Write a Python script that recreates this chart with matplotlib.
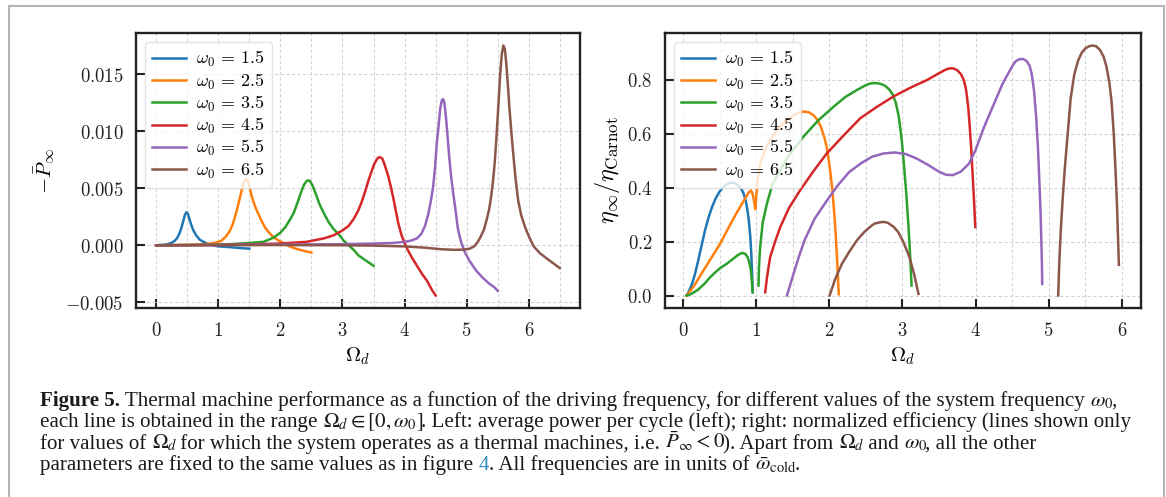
import re
import numpy as np
import matplotlib.pyplot as plt
import matplotlib.transforms as mtransforms
from matplotlib.patches import Rectangle
from matplotlib.ticker import MultipleLocator, FormatStrFormatter

plt.rcParams['mathtext.fontset'] = 'cm'

omega0 = [1.5, 2.5, 3.5, 4.5, 5.5, 6.5]
colors = ['#1f77b4', '#ff7f0e', '#2ca02c', '#d62728', '#9467bd', '#8c564b']

# ---- left panel: -P_inf vs Omega_d ----
p_x1 = [0, 0.1, 0.15, 0.2, 0.25, 0.3, 0.34, 0.38, 0.41, 0.44, 0.465, 0.49, 0.515, 0.54, 0.57, 0.6, 0.64, 0.7,
        0.76, 0.82, 0.88, 0.94, 1.0, 1.1, 1.2, 1.3, 1.4, 1.5]
p_y1 = [0, 0.00003, 0.00006, 0.00012, 0.00022, 0.0004, 0.00065, 0.0011, 0.0016, 0.0022, 0.0027, 0.0029, 0.0027,
        0.0022, 0.0017, 0.0013, 0.0009, 0.0005, 0.0003, 0.00015, 0.00005, -0.00003, -0.0001, -0.00013,
        -0.00017, -0.00022, -0.00026, -0.0003]
p_x2 = [0, 0.5, 0.8, 0.95, 1.05, 1.12, 1.18, 1.23, 1.27, 1.31, 1.35, 1.38, 1.41, 1.43, 1.45, 1.47, 1.49, 1.52,
        1.56, 1.6, 1.65, 1.7, 1.76, 1.82, 1.89, 1.96, 2.05, 2.15, 2.25, 2.35, 2.45, 2.5]
p_y2 = [0, 0.00003, 0.0001, 0.00022, 0.0004, 0.00075, 0.0012, 0.0018, 0.0025, 0.0033, 0.0042, 0.0049, 0.0055,
        0.0057, 0.0058, 0.0057, 0.0054, 0.0047, 0.0039, 0.0033, 0.0027, 0.0021, 0.0015, 0.0011, 0.0007,
        0.00045, 0.0002, -0.0001, -0.0003, -0.00045, -0.00058, -0.00064]
p_x3 = [0, 0.8, 1.2, 1.5, 1.73, 1.89, 2.0, 2.08, 2.15, 2.22, 2.28, 2.33, 2.38, 2.42, 2.45, 2.48, 2.52, 2.57,
        2.63, 2.7, 2.78, 2.86, 2.94, 3.02, 3.1, 3.18, 3.26, 3.34, 3.42, 3.5]
p_y3 = [0, 0.00003, 0.0001, 0.0002, 0.0003, 0.00067, 0.0011, 0.0016, 0.0022, 0.0029, 0.0038, 0.0046, 0.0053,
        0.0056, 0.0057, 0.0056, 0.0052, 0.0045, 0.0036, 0.0028, 0.002, 0.0014, 0.00097, 0.0004, 0.0,
        -0.0004, -0.0009, -0.0012, -0.0015, -0.0018]
p_x4 = [0, 1.0, 1.5, 2.0, 2.42, 2.7, 2.86, 3.0, 3.1, 3.18, 3.25, 3.31, 3.37, 3.42, 3.47, 3.51, 3.55, 3.58, 3.61,
        3.64, 3.67, 3.7, 3.74, 3.78, 3.82, 3.86, 3.9, 3.95, 4.0, 4.05, 4.12, 4.2, 4.28, 4.36, 4.44, 4.5]
p_y4 = [0, 0.00003, 0.00008, 0.00015, 0.0003, 0.0006, 0.00088, 0.0013, 0.0017, 0.0023, 0.003, 0.0038, 0.0048,
        0.0057, 0.0065, 0.0071, 0.0075, 0.0077, 0.0077, 0.0076, 0.0072, 0.0067, 0.006, 0.0051, 0.0041, 0.003,
        0.0019, 0.0009, 0.0002, -0.0004, -0.0011, -0.0018, -0.0025, -0.0031, -0.0039, -0.0044]
p_x5 = [0, 1.0, 2.0, 3.0, 3.5, 3.8, 4.0, 4.1, 4.2, 4.27, 4.33, 4.38, 4.42, 4.46, 4.49, 4.52, 4.55, 4.575, 4.6,
        4.62, 4.64, 4.665, 4.69, 4.72, 4.75, 4.78, 4.82, 4.86, 4.91, 4.97, 5.05, 5.15, 5.25, 5.35, 5.45, 5.5]
p_y5 = [0, 0.00003, 0.00006, 0.0001, 0.00015, 0.0002, 0.0003, 0.0004, 0.0006, 0.001, 0.0017, 0.0027, 0.0038,
        0.0051, 0.0068, 0.009, 0.0106, 0.012, 0.0127, 0.0128, 0.0125, 0.0113, 0.0097, 0.0077, 0.006, 0.0047,
        0.0031, 0.0014, 0.0003, -0.0006, -0.0014, -0.0022, -0.0028, -0.0033, -0.0037, -0.004]
p_x6 = [0, 1.0, 2.0, 3.0, 3.5, 4.0, 4.3, 4.6, 4.8, 4.95, 5.05, 5.12, 5.18, 5.23, 5.28, 5.32, 5.36, 5.39, 5.42,
        5.45, 5.48, 5.51, 5.54, 5.565, 5.59, 5.615, 5.64, 5.665, 5.69, 5.72, 5.75, 5.79, 5.83, 5.88, 5.94, 6.0,
        6.08, 6.18, 6.3, 6.4, 6.5]
p_y6 = [0, 0.00001, 0.00002, 0.0, -0.00003, -0.0001, -0.0002, -0.00035, -0.0004, -0.00038, -0.0003, -0.0001,
        0.0003, 0.0008, 0.0014, 0.0022, 0.0031, 0.0041, 0.0054, 0.0071, 0.0095, 0.0122, 0.015, 0.0167, 0.0175,
        0.0172, 0.0158, 0.0139, 0.0119, 0.0099, 0.008, 0.0057, 0.0039, 0.0026, 0.0016, 0.0008, -0.0001,
        -0.0007, -0.0012, -0.0016, -0.002]

# ---- right panel: eta/eta_Carnot (nan = gap where it is not an engine) ----
e_x1 = [0.05, 0.08, 0.12, 0.16, 0.2, 0.25, 0.3, 0.35, 0.4, 0.45, 0.5, 0.55, 0.6, 0.64, 0.68, 0.72, 0.76, 0.8,
        0.83, 0.86, 0.88, 0.9, 0.92, 0.935, 0.945, 0.955]
e_y1 = [0.0, 0.015, 0.04, 0.075, 0.12, 0.18, 0.24, 0.29, 0.33, 0.362, 0.385, 0.403, 0.413, 0.418, 0.419, 0.415,
        0.407, 0.395, 0.378, 0.35, 0.32, 0.28, 0.22, 0.15, 0.08, 0.012]
e_x2 = [0.05, 0.15, 0.28, 0.4, 0.51, 0.62, 0.74, 0.85, 0.9, 0.93, 0.955, 0.975, 0.99, 1.0, 1.02, 1.06, 1.12,
        1.19, 1.3, 1.42, 1.5, 1.58, 1.65, 1.72, 1.78, 1.83, 1.88, 1.93, 1.97, 2.01, 2.04, 2.07, 2.09, 2.11, 2.13]
e_y2 = [0.0, 0.035, 0.093, 0.145, 0.193, 0.25, 0.31, 0.36, 0.383, 0.39, 0.375, 0.345, 0.32, 0.36, 0.43, 0.49,
        0.54, 0.577, 0.62, 0.652, 0.667, 0.678, 0.683, 0.68, 0.67, 0.655, 0.63, 0.59, 0.545, 0.47, 0.4, 0.3,
        0.22, 0.12, 0.005]
e_x3 = [0.05, 0.1, 0.2, 0.3, 0.372, 0.45, 0.52, 0.6, 0.68, 0.75, 0.806, 0.85, 0.883, 0.91, 0.929, 0.943, 0.952,
        np.nan,
        1.033, 1.04, 1.056, 1.09, 1.148, 1.22, 1.33, 1.45, 1.648, 1.85, 2.06, 2.22, 2.38, 2.48, 2.55, 2.62, 2.7,
        2.76, 2.82, 2.87, 2.91, 2.95, 2.99, 3.02, 3.05, 3.08, 3.1, 3.115, 3.125]
e_y3 = [0.0, 0.004, 0.02, 0.045, 0.068, 0.088, 0.104, 0.118, 0.135, 0.15, 0.158, 0.155, 0.143, 0.12, 0.093, 0.05,
        0.012, np.nan,
        0.037, 0.11, 0.18, 0.27, 0.341, 0.41, 0.466, 0.52, 0.59, 0.65, 0.701, 0.737, 0.763, 0.778, 0.786, 0.789,
        0.786, 0.779, 0.765, 0.745, 0.715, 0.665, 0.58, 0.49, 0.39, 0.27, 0.18, 0.1, 0.037]
e_x4 = [1.125, 1.15, 1.193, 1.26, 1.33, 1.45, 1.603, 1.78, 1.968, 2.2, 2.424, 2.65, 2.88, 3.1, 3.337, 3.5, 3.58,
        3.64, 3.7, 3.75, 3.8, 3.84, 3.87, 3.9, 3.92, 3.94, 3.96, 3.98, 3.997]
e_y4 = [0.012, 0.07, 0.143, 0.2, 0.254, 0.325, 0.391, 0.46, 0.528, 0.595, 0.658, 0.70, 0.739, 0.77, 0.80, 0.825,
        0.837, 0.843, 0.843, 0.836, 0.822, 0.80, 0.765, 0.7, 0.63, 0.55, 0.45, 0.35, 0.254]
e_x5 = [1.422, 1.5, 1.58, 1.662, 1.8, 1.969, 2.12, 2.276, 2.43, 2.583, 2.74, 2.89, 3.05, 3.197, 3.35, 3.504, 3.6,
        3.693, 3.8, 3.913, 4.0, 4.118, 4.25, 4.373, 4.5, 4.55, 4.6, 4.65, 4.7, 4.74, 4.77, 4.8, 4.83, 4.855,
        4.875, 4.89, 4.9, 4.908, 4.912]
e_y5 = [0.0, 0.07, 0.14, 0.205, 0.285, 0.353, 0.41, 0.459, 0.49, 0.515, 0.527, 0.531, 0.525, 0.508, 0.485, 0.459,
        0.448, 0.447, 0.46, 0.49, 0.54, 0.626, 0.71, 0.788, 0.85, 0.87, 0.877, 0.878, 0.87, 0.852, 0.82, 0.76,
        0.66, 0.54, 0.41, 0.3, 0.2, 0.11, 0.043]
e_x6 = [2.005, 2.08, 2.174, 2.28, 2.379, 2.48, 2.583, 2.62, 2.7, 2.75, 2.8, 2.88, 2.941, 3.02, 3.095, 3.16, 3.22,
        np.nan,
        5.13, 5.145, 5.165, 5.19, 5.22, 5.26, 5.3, 5.35, 5.4, 5.45, 5.5, 5.55, 5.6, 5.65, 5.7, 5.75, 5.79, 5.83,
        5.86, 5.89, 5.915, 5.935, 5.95, 5.96]
e_y6 = [0.0, 0.06, 0.118, 0.165, 0.205, 0.236, 0.26, 0.267, 0.272, 0.273, 0.27, 0.255, 0.236, 0.195, 0.143, 0.08,
        0.006, np.nan,
        0.0, 0.12, 0.24, 0.353, 0.47, 0.6, 0.73, 0.82, 0.87, 0.9, 0.917, 0.925, 0.928, 0.925, 0.912, 0.887, 0.85,
        0.79, 0.72, 0.6, 0.46, 0.33, 0.2, 0.114]

power = [(p_x1, p_y1), (p_x2, p_y2), (p_x3, p_y3), (p_x4, p_y4), (p_x5, p_y5), (p_x6, p_y6)]
eff = [(e_x1, e_y1), (e_x2, e_y2), (e_x3, e_y3), (e_x4, e_y4), (e_x5, e_y5), (e_x6, e_y6)]

W, H = 1166, 497
fig = plt.figure(figsize=(W / 100, H / 100), dpi=100)

# page-like frame around the figure
fig.patches.append(Rectangle((9 / W, -0.1), 1155 / W, 1.1 - 6 / H, transform=fig.transFigure,
                             fill=False, edgecolor='#b4b4b4', lw=1.5))

ax1 = fig.add_axes([136 / W, (H - 308) / H, 444 / W, 275 / H])
ax2 = fig.add_axes([665 / W, (H - 308) / H, 475.5 / W, 275 / H])

for (x, y), w0, c in zip(power, omega0, colors):
    ax1.plot(x, y, color=c, lw=1.8, label=rf'$\omega_0\,=\,{w0}$')
for (x, y), w0, c in zip(eff, omega0, colors):
    ax2.plot(x, y, color=c, lw=1.8, label=rf'$\omega_0\,=\,{w0}$')

grid_kw = dict(ls=(0, (3, 2)), color='#d4d4d4', lw=0.8)
for ax in (ax1, ax2):
    ax.xaxis.set_major_locator(MultipleLocator(1))
    ax.xaxis.set_minor_locator(MultipleLocator(0.5))
    ax.xaxis.set_major_formatter(FormatStrFormatter(r'$%d$'))
    ax.grid(True, which='major', **grid_kw)
    ax.grid(True, which='minor', axis='x', **grid_kw)
    ax.set_axisbelow(True)
    ax.tick_params(which='major', direction='in', length=6.5, width=1.5, pad=9, labelsize=13.5,
                   colors='#222222')
    ax.tick_params(which='minor', length=0)
    for sp in ax.spines.values():
        sp.set_linewidth(1.7)
        sp.set_color('#222222')
    ax.set_xlabel(r'$\Omega_d$', fontsize=15, labelpad=4)
    ax.legend(loc='upper left', fontsize=13, handlelength=1.85, handletextpad=0.6, labelspacing=0.12,
              edgecolor='#dddddd', borderpad=0.4)

ax1.yaxis.set_major_locator(MultipleLocator(0.005))
ax1.yaxis.set_major_formatter(FormatStrFormatter(r'$%.3f$'))
ax1.set_ylabel(r'$-\bar{P}_\infty$', fontsize=15, labelpad=6)
ax2.yaxis.set_major_locator(MultipleLocator(0.2))
ax2.yaxis.set_major_formatter(FormatStrFormatter(r'$%.1f$'))
ax2.set_ylabel(r'$\eta_\infty/\eta_{\mathrm{Carnot}}$', fontsize=17.5, labelpad=4)

# ---- caption ----
renderer = fig.canvas.get_renderer()
px = mtransforms.IdentityTransform()
cap = dict(family='Liberation Serif', math_fontfamily='stix', va='baseline', color='#1a1a1a')

lines = [
    [(r'Figure 5.', dict(fontweight='bold')),
     (r' Thermal machine performance as a function of the driving frequency, for different values of the '
      r'system frequency $\omega_0$,', {})],
    [(r'each line is obtained in the range $\Omega_d \in [0,\omega_0]$. Left: average power per cycle (left); '
      r'right: normalized efficiency (lines shown only', {})],
    [(r'for values of $\Omega_d$ for which the system operates as a thermal machines, i.e. '
      r'$\bar{P}_\infty < 0$). Apart from $\Omega_d$ and $\omega_0$, all the other', {})],
    [(r'parameters are fixed to the same values as in figure ', {}),
     (r'4', dict(color='#2e8bc0')),
     (r'. All frequencies are in units of $\bar{\omega}_{\mathrm{cold}}$.', {})],
]


def place_line(pieces, x, y, size, draw=True):
    # plain words and math are separate texts, so each keeps its own height
    made = []
    for s, extra in pieces:
        for part in re.split(r'(\$[^$]*\$)', s):
            if not part:
                continue
            kw = dict(cap)
            kw.update(extra)
            t = fig.text(x, H - y, part, transform=px, fontsize=size, **kw)
            x += t.get_window_extent(renderer).width
            if part.startswith('$'):
                x -= 2  # mathtext boxes carry a little extra room on the right
            made.append(t)
    if not draw:
        for t in made:
            t.remove()
    return x


# pick one font size so that the second (full) line runs to the right margin
end = place_line(lines[1], 40, 425, 10, draw=False)
size = 10 * (1127 - 40) / (end - 40)

for i, pieces in enumerate(lines):
    place_line(pieces, 40, 406 + 21.3 * i, size)

fig.savefig('out.png', dpi=100)
